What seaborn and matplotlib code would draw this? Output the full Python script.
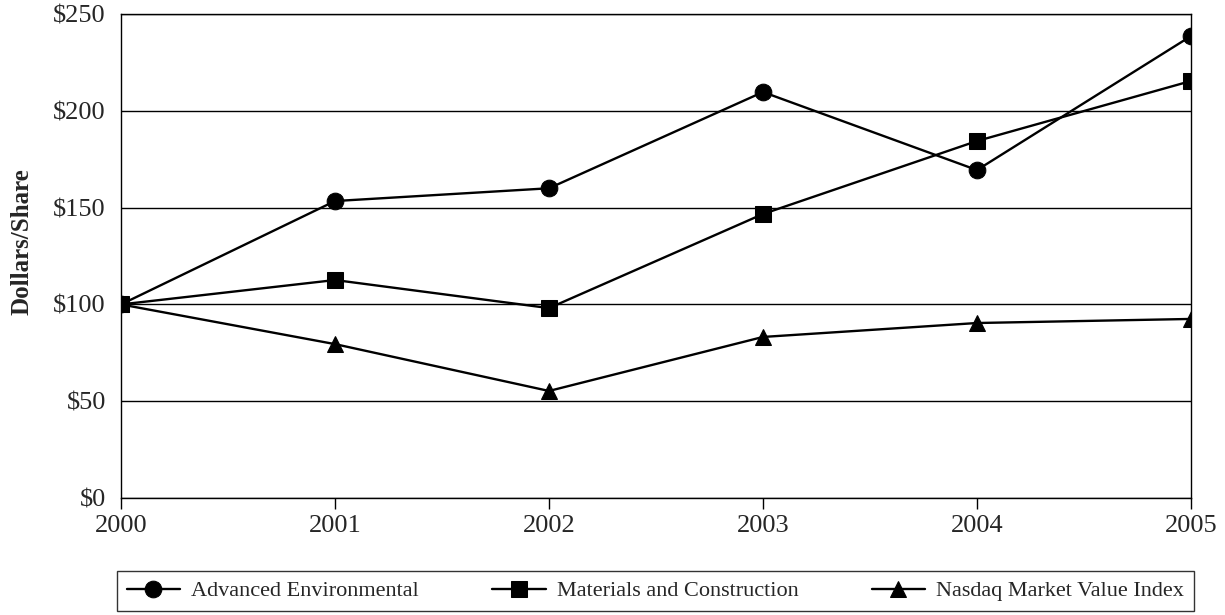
import pandas as pd
import matplotlib
matplotlib.use("Agg")
import matplotlib.pyplot as plt
import matplotlib.ticker as ticker
import seaborn as sns

YEARS = [2000, 2001, 2002, 2003, 2004, 2005]
ADVANCED_ENV = [100, 153.4, 160.0, 209.7, 169.4, 238.6]
MATERIALS = [100, 112.6, 98.1, 146.7, 184.4, 215.4]
NASDAQ = [100, 79.5, 55.3, 83.2, 90.4, 92.5]
SERIES = ["Advanced Environmental", "Materials and Construction", "Nasdaq Market Value Index"]

df = pd.DataFrame({
    "Year": YEARS * 3,
    "Value": ADVANCED_ENV + MATERIALS + NASDAQ,
    "Series": [SERIES[0]] * 6 + [SERIES[1]] * 6 + [SERIES[2]] * 6,
})

sns.set_theme(style="white")
plt.rcParams["font.family"] = ["Liberation Serif", "DejaVu Serif"]

fig = plt.figure(figsize=(12.25, 6.15), dpi=100)
ax = fig.add_axes([0.0988, 0.1902, 0.8734, 0.787])

sns.lineplot(
    data=df, x="Year", y="Value", hue="Series", style="Series",
    markers=["o", "s", "^"], dashes=False,
    palette=["black", "black", "black"],
    linewidth=1.7, markersize=12, markeredgecolor="black",
    ax=ax,
)

ax.set_xlim(2000, 2005)
ax.set_ylim(0, 250)
ax.set_xticks(YEARS)
ax.set_yticks([0, 50, 100, 150, 200, 250])
ax.yaxis.set_major_formatter(ticker.FuncFormatter(lambda v, pos: f"${v:.0f}"))
ax.grid(axis="y", color="black", linewidth=1)
ax.set_axisbelow(True)
for s in ax.spines.values():
    s.set_color("black")
    s.set_linewidth(1)

ax.tick_params(axis="x", direction="out", length=8, width=1, color="black",
               bottom=True, labelsize=19, pad=4)
ax.tick_params(axis="y", length=0, labelsize=19, pad=11)
ax.set_xlabel("")
ax.set_ylabel("Dollars/Share", fontweight="bold", fontsize=18)
ax.yaxis.set_label_coords(-0.082, 0.53)

handles, labels = ax.get_legend_handles_labels()
ax.legend_.remove()
leg = fig.legend(handles, labels, ncol=3, loc="center",
                 bbox_to_anchor=(0.535, 0.039),
                 frameon=True, fancybox=False, edgecolor="black",
                 fontsize=16, handlelength=2.4, handletextpad=0.5,
                 columnspacing=3.3, borderpad=0.45, borderaxespad=0)
leg.get_frame().set_linewidth(1)

fig.savefig("out.png", dpi=100)
